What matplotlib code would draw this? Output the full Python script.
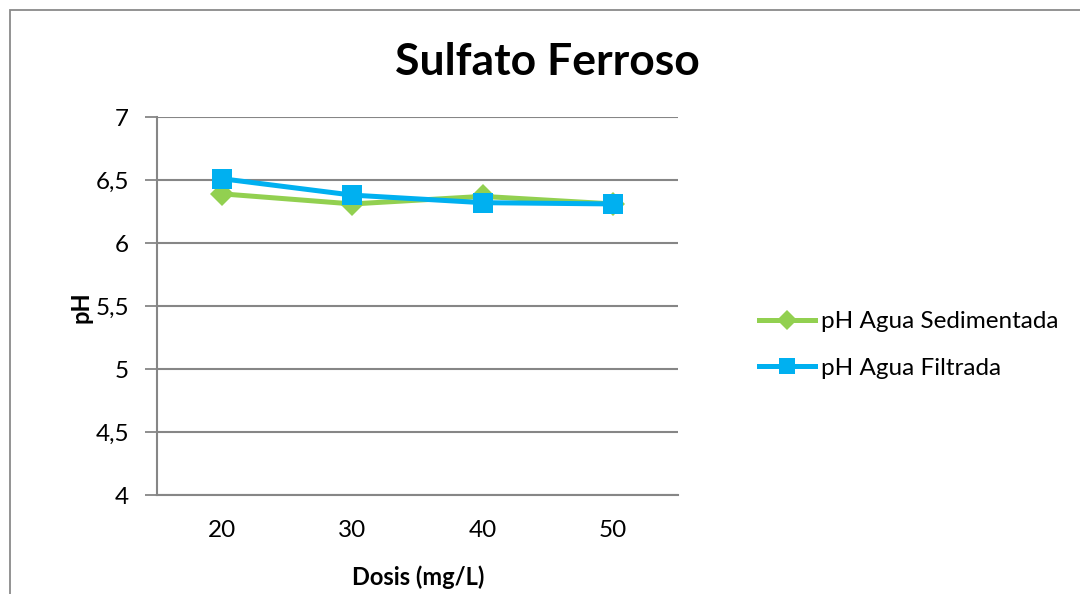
import matplotlib
matplotlib.use("Agg")
import matplotlib.pyplot as plt
from matplotlib.patches import Rectangle

plt.rcParams['font.family'] = ['Lato', 'DejaVu Sans']

# Data
dosis = ["20", "30", "40", "50"]
ph_sedimentada = [6.39, 6.31, 6.37, 6.31]
ph_filtrada = [6.51, 6.38, 6.32, 6.31]
y_ticks = [4, 4.5, 5, 5.5, 6, 6.5, 7]
y_tick_labels = ["4", "4,5", "5", "5,5", "6", "6,5", "7"]

GREEN = "#92D050"
BLUE = "#00B0F0"
GRID = "#868686"

W, H = 1080, 594
fig = plt.figure(figsize=(W / 100, H / 100), dpi=100)

# Chart area frame (extends past the right and bottom edges)
fig.patches.append(Rectangle((10 / W, -0.05), 1.2, 1 - 10 / H + 0.05,
                             transform=fig.transFigure, fill=False,
                             edgecolor="#8a8a8a", linewidth=1.3))

ax = fig.add_axes([157 / W, 1 - 495 / H, 521 / W, 378 / H])
x = list(range(len(dosis)))

ax.plot(x, ph_sedimentada, color=GREEN, linewidth=3.6, marker="D",
        markersize=12, markeredgewidth=0, label="pH Agua Sedimentada",
        zorder=3)
ax.plot(x, ph_filtrada, color=BLUE, linewidth=3.6, marker="s",
        markersize=14, markeredgewidth=0, label="pH Agua Filtrada",
        zorder=4)

ax.set_xlim(-0.5, len(dosis) - 0.5)
ax.set_ylim(4, 7)
ax.set_xticks(x)
ax.set_xticklabels(dosis, fontsize=17.5)
ax.set_yticks(y_ticks)
ax.set_yticklabels(y_tick_labels, fontsize=17.5)
ax.tick_params(axis="x", length=0, pad=18)
ax.tick_params(axis="y", length=9, width=1.3, color=GRID, pad=11,
               direction="out")
ax.yaxis.grid(True, color=GRID, linewidth=1.5)
ax.set_axisbelow(True)
for side in ("top", "right"):
    ax.spines[side].set_visible(False)
for side in ("left", "bottom"):
    ax.spines[side].set_color(GRID)
    ax.spines[side].set_linewidth(1.5)

fig.text(547 / W, 1 - 62 / H, "Sulfato Ferroso", fontsize=32,
         fontweight="bold", ha="center", va="center")
fig.text(418 / W, 1 - 577 / H, "Dosis (mg/L)", fontsize=17,
         fontweight="bold", ha="center", va="center")
fig.text(81 / W, 1 - 307 / H, "pH", fontsize=17, fontweight="bold",
         ha="center", va="center", rotation=90)

legend = fig.legend(loc="center left", bbox_to_anchor=(749 / W, 1 - 345 / H),
                    frameon=False, fontsize=17.5, handlelength=2.3,
                    handletextpad=0.25, labelspacing=1.05, borderaxespad=0,
                    markerscale=0.85)

fig.savefig("out.png", dpi=100)
